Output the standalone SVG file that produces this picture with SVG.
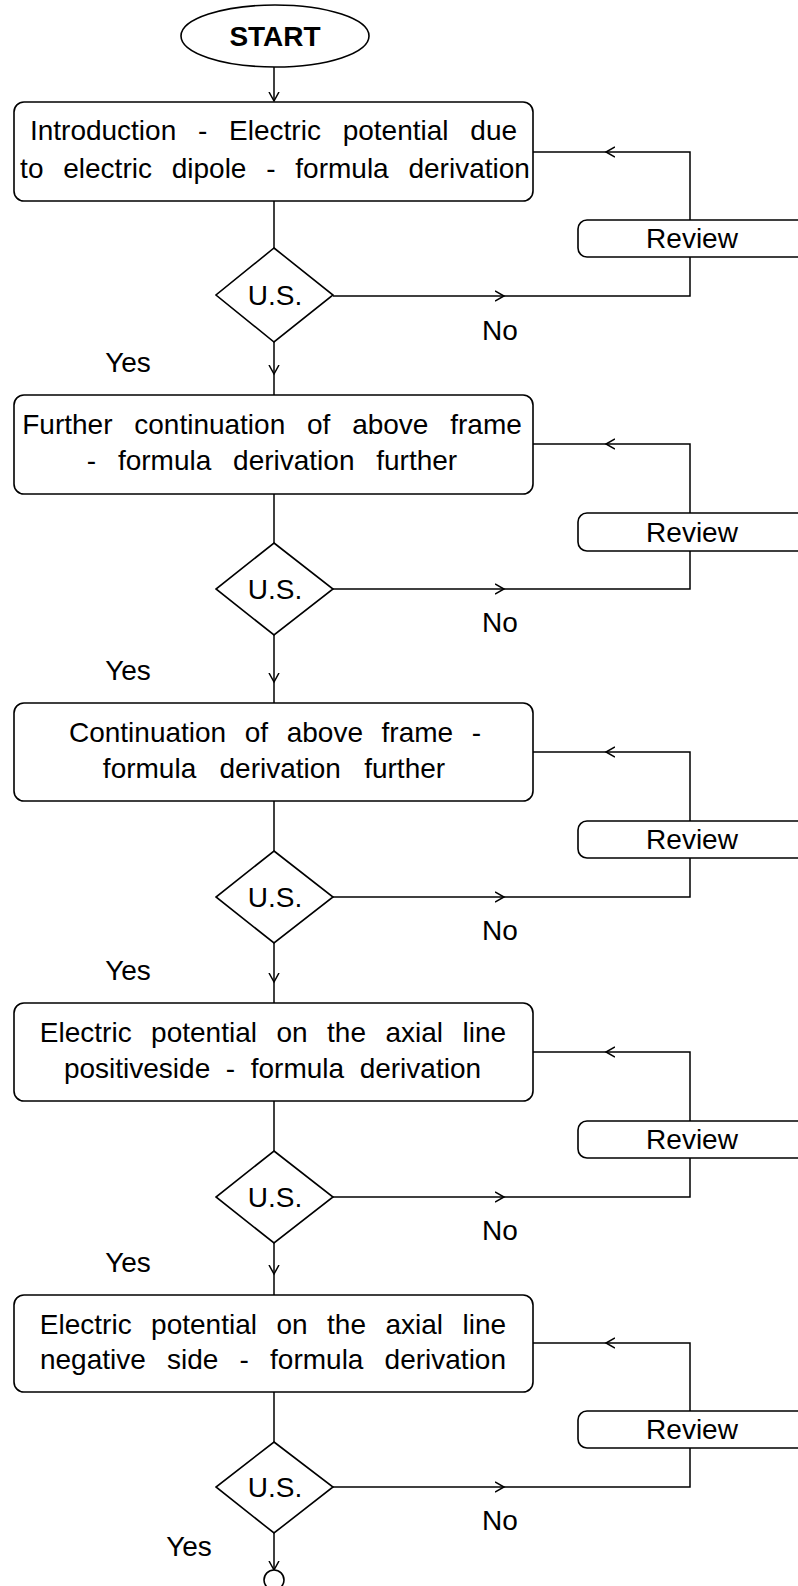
<svg xmlns="http://www.w3.org/2000/svg" width="798" height="1586" viewBox="0 0 798 1586">
<defs>
<style>
.shape{fill:#fff;stroke:#000;stroke-width:1.6}
.conn{fill:none;stroke:#000;stroke-width:1.5}
.t{font-family:"Liberation Sans",Arial,sans-serif;font-size:28px;fill:#000;text-anchor:middle}
.b{font-weight:bold}
</style>
<marker id="arr" markerUnits="userSpaceOnUse" markerWidth="12" markerHeight="12" refX="9" refY="5" orient="auto" viewBox="0 0 12 10">
<path d="M0,0 L9,5 L0,10" fill="none" stroke="#000" stroke-width="1.5"/>
</marker>
</defs>
<rect width="798" height="1586" fill="#fff"/>
<g id="connectors">
<path class="conn" d="M274,67 L274,101" marker-end="url(#arr)"/>
<!-- section 1 -->
<path class="conn" d="M274,201 L274,248"/>
<path class="conn" d="M274,342 L274,374 L274,395" marker-mid="url(#arr)"/>
<path class="conn" d="M333,296 L504,296" marker-end="url(#arr)"/>
<path class="conn" d="M504,296 L690,296 L690,152 L606,152" marker-end="url(#arr)"/>
<path class="conn" d="M606,152 L533,152"/>
<!-- section 2 -->
<path class="conn" d="M274,494 L274,543"/>
<path class="conn" d="M274,635 L274,682 L274,703" marker-mid="url(#arr)"/>
<path class="conn" d="M333,589 L504,589" marker-end="url(#arr)"/>
<path class="conn" d="M504,589 L690,589 L690,444 L606,444" marker-end="url(#arr)"/>
<path class="conn" d="M606,444 L533,444"/>
<!-- section 3 -->
<path class="conn" d="M274,801 L274,851"/>
<path class="conn" d="M274,943 L274,982 L274,1003" marker-mid="url(#arr)"/>
<path class="conn" d="M333,897 L504,897" marker-end="url(#arr)"/>
<path class="conn" d="M504,897 L690,897 L690,752 L606,752" marker-end="url(#arr)"/>
<path class="conn" d="M606,752 L533,752"/>
<!-- section 4 -->
<path class="conn" d="M274,1101 L274,1151"/>
<path class="conn" d="M274,1243 L274,1274 L274,1295" marker-mid="url(#arr)"/>
<path class="conn" d="M333,1197 L504,1197" marker-end="url(#arr)"/>
<path class="conn" d="M504,1197 L690,1197 L690,1052 L606,1052" marker-end="url(#arr)"/>
<path class="conn" d="M606,1052 L533,1052"/>
<!-- section 5 -->
<path class="conn" d="M274,1392 L274,1442"/>
<path class="conn" d="M274,1533 L274,1570" marker-end="url(#arr)"/>
<path class="conn" d="M333,1487 L504,1487" marker-end="url(#arr)"/>
<path class="conn" d="M504,1487 L690,1487 L690,1343 L606,1343" marker-end="url(#arr)"/>
<path class="conn" d="M606,1343 L533,1343"/>
</g>
<g id="start">
<ellipse class="shape" cx="275" cy="36" rx="94" ry="31"/>
<text class="t b" x="275" y="46">START</text>
</g>
<g id="box1">
<rect class="shape" x="14" y="102" width="519" height="99" rx="10"/>
<text class="t" x="273.5" y="140" word-spacing="14">Introduction - Electric potential due</text>
<text class="t" x="275" y="178" word-spacing="12">to electric dipole - formula derivation</text>
</g>
<g id="review1">
<rect class="shape" x="578" y="220" width="240" height="37" rx="9"/>
<text class="t" x="692" y="248">Review</text>
</g>
<g id="dec1">
<polygon class="shape" points="274,248 333,295 274,342 216,295"/>
<text class="t" x="275" y="305">U.S.</text>
</g>
<text class="t" x="500" y="340">No</text>
<text class="t" x="128" y="372">Yes</text>

<g id="box2">
<rect class="shape" x="14" y="395" width="519" height="99" rx="10"/>
<text class="t" x="272" y="434" word-spacing="14">Further continuation of above frame</text>
<text class="t" x="272" y="470" word-spacing="14">- formula derivation further</text>
</g>
<g id="review2">
<rect class="shape" x="578" y="513" width="240" height="38" rx="9"/>
<text class="t" x="692" y="542">Review</text>
</g>
<g id="dec2">
<polygon class="shape" points="274,543 333,589 274,635 216,589"/>
<text class="t" x="275" y="599">U.S.</text>
</g>
<text class="t" x="500" y="632">No</text>
<text class="t" x="128" y="680">Yes</text>

<g id="box3">
<rect class="shape" x="14" y="703" width="519" height="98" rx="10"/>
<text class="t" x="275" y="742" word-spacing="10.8">Continuation of above frame -</text>
<text class="t" x="274" y="778" word-spacing="15.5">formula derivation further</text>
</g>
<g id="review3">
<rect class="shape" x="578" y="821" width="240" height="37" rx="9"/>
<text class="t" x="692" y="849">Review</text>
</g>
<g id="dec3">
<polygon class="shape" points="274,851 333,897 274,943 216,897"/>
<text class="t" x="275" y="907">U.S.</text>
</g>
<text class="t" x="500" y="940">No</text>
<text class="t" x="128" y="980">Yes</text>

<g id="box4">
<rect class="shape" x="14" y="1003" width="519" height="98" rx="10"/>
<text class="t" x="273" y="1042" word-spacing="11.7">Electric potential on the axial line</text>
<text class="t" x="272.5" y="1078" word-spacing="7.8">positiveside - formula derivation</text>
</g>
<g id="review4">
<rect class="shape" x="578" y="1121" width="240" height="37" rx="9"/>
<text class="t" x="692" y="1149">Review</text>
</g>
<g id="dec4">
<polygon class="shape" points="274,1151 333,1197 274,1243 216,1197"/>
<text class="t" x="275" y="1207">U.S.</text>
</g>
<text class="t" x="500" y="1240">No</text>
<text class="t" x="128" y="1272">Yes</text>

<g id="box5">
<rect class="shape" x="14" y="1295" width="519" height="97" rx="10"/>
<text class="t" x="273" y="1334" word-spacing="11.7">Electric potential on the axial line</text>
<text class="t" x="273" y="1369" word-spacing="13.4">negative side - formula derivation</text>
</g>
<g id="review5">
<rect class="shape" x="578" y="1411" width="240" height="37" rx="9"/>
<text class="t" x="692" y="1439">Review</text>
</g>
<g id="dec5">
<polygon class="shape" points="274,1442 333,1487 274,1533 216,1487"/>
<text class="t" x="275" y="1497">U.S.</text>
</g>
<text class="t" x="500" y="1530">No</text>
<text class="t" x="189" y="1556">Yes</text>
<g id="end">
<circle class="shape" cx="274" cy="1580" r="10"/>
</g>
</svg>
